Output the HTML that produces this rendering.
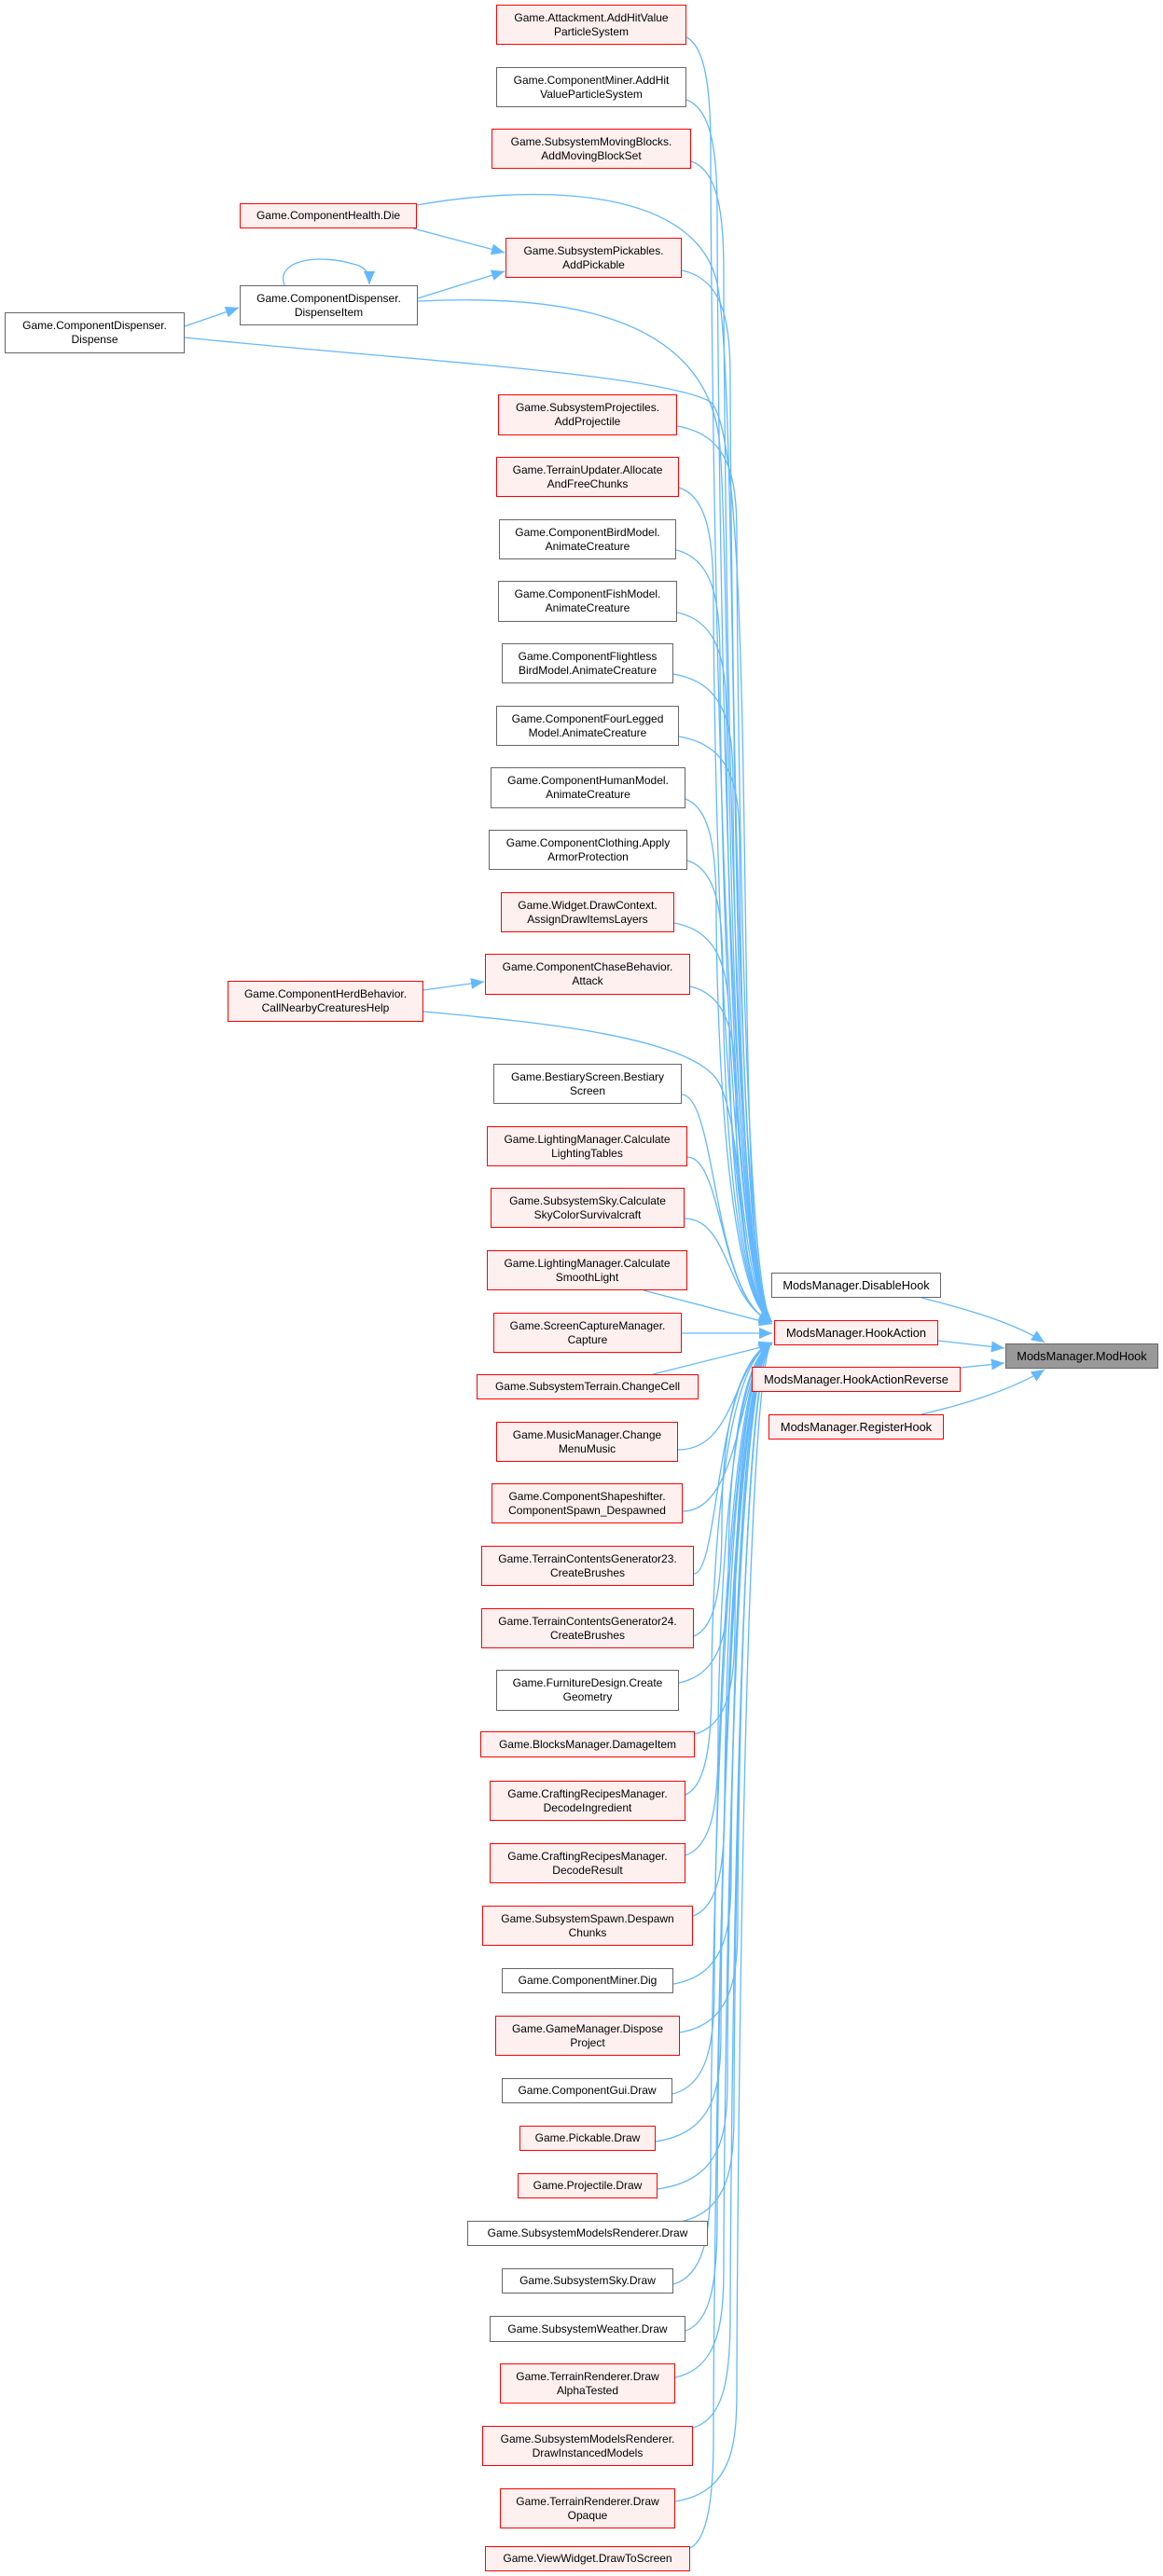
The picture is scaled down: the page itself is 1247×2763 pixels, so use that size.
<!DOCTYPE html>
<html><head><meta charset="utf-8">
<style>
html,body{margin:0;padding:0;background:#fff;}
body{width:1247px;height:2763px;position:relative;overflow:hidden;font-family:"Liberation Sans",Arial,sans-serif;}
.n{position:absolute;box-sizing:border-box;display:flex;align-items:center;justify-content:center;text-align:center;font-size:12px;line-height:15px;color:#000;white-space:nowrap;}
.r{border:1.5px solid #ff0000;background:#fff0f0;}
.g{border:1.5px solid #666;background:#fff;}
.m{border:1.5px solid #666;background:#999;}
.b{font-size:12.8px;}
svg{position:absolute;left:0;top:0;}
</style></head><body>
<svg id="s" width="1247" height="2763" viewBox="0 0 1247 2763">
<defs><marker id="a" markerUnits="userSpaceOnUse" markerWidth="16" markerHeight="12" refX="14" refY="6" orient="auto"><path d="M0,0 L14,6 L0,12 z" fill="#63b8ff"/></marker></defs>
<g id="e" fill="none" stroke="#63b8ff" stroke-width="1.3"></g>
</svg>

<div class="n r" style="left:532px;top:5px;width:204px;height:43px">Game.Attackment.AddHitValue<br>ParticleSystem</div>
<div class="n g" style="left:532px;top:72px;width:204px;height:43px">Game.ComponentMiner.AddHit<br>ValueParticleSystem</div>
<div class="n r" style="left:527px;top:138px;width:214px;height:43px">Game.SubsystemMovingBlocks.<br>AddMovingBlockSet</div>
<div class="n r" style="left:257px;top:218px;width:190px;height:27px">Game.ComponentHealth.Die</div>
<div class="n r" style="left:542px;top:255px;width:189px;height:43px">Game.SubsystemPickables.<br>AddPickable</div>
<div class="n g" style="left:257px;top:306px;width:191px;height:43px">Game.ComponentDispenser.<br>DispenseItem</div>
<div class="n g" style="left:5px;top:335px;width:193px;height:44px">Game.ComponentDispenser.<br>Dispense</div>

<div class="n r" style="left:534px;top:423px;width:192px;height:44px">Game.SubsystemProjectiles.<br>AddProjectile</div>
<div class="n r" style="left:532px;top:490px;width:196px;height:43px">Game.TerrainUpdater.Allocate<br>AndFreeChunks</div>
<div class="n g" style="left:535px;top:557px;width:190px;height:43px">Game.ComponentBirdModel.<br>AnimateCreature</div>
<div class="n g" style="left:534px;top:623px;width:192px;height:44px">Game.ComponentFishModel.<br>AnimateCreature</div>
<div class="n g" style="left:538px;top:690px;width:184px;height:43px">Game.ComponentFlightless<br>BirdModel.AnimateCreature</div>
<div class="n g" style="left:532px;top:757px;width:196px;height:43px">Game.ComponentFourLegged<br>Model.AnimateCreature</div>
<div class="n g" style="left:526px;top:823px;width:209px;height:44px">Game.ComponentHumanModel.<br>AnimateCreature</div>
<div class="n g" style="left:524px;top:890px;width:213px;height:43px">Game.ComponentClothing.Apply<br>ArmorProtection</div>
<div class="n r" style="left:537px;top:957px;width:186px;height:43px">Game.Widget.DrawContext.<br>AssignDrawItemsLayers</div>
<div class="n r" style="left:520px;top:1023px;width:220px;height:44px">Game.ComponentChaseBehavior.<br>Attack</div>
<div class="n r" style="left:244px;top:1052px;width:210px;height:44px">Game.ComponentHerdBehavior.<br>CallNearbyCreaturesHelp</div>

<div class="n g" style="left:529px;top:1141px;width:202px;height:43px">Game.BestiaryScreen.Bestiary<br>Screen</div>
<div class="n r" style="left:522px;top:1208px;width:215px;height:43px">Game.LightingManager.Calculate<br>LightingTables</div>
<div class="n r" style="left:526px;top:1274px;width:208px;height:43px">Game.SubsystemSky.Calculate<br>SkyColorSurvivalcraft</div>
<div class="n r" style="left:522px;top:1341px;width:215px;height:43px">Game.LightingManager.Calculate<br>SmoothLight</div>
<div class="n r" style="left:529px;top:1408px;width:202px;height:43px">Game.ScreenCaptureManager.<br>Capture</div>
<div class="n r" style="left:511px;top:1474px;width:238px;height:27px">Game.SubsystemTerrain.ChangeCell</div>
<div class="n r" style="left:532px;top:1525px;width:195px;height:43px">Game.MusicManager.Change<br>MenuMusic</div>
<div class="n r" style="left:527px;top:1591px;width:205px;height:43px">Game.ComponentShapeshifter.<br>ComponentSpawn_Despawned</div>
<div class="n r" style="left:516px;top:1658px;width:228px;height:43px">Game.TerrainContentsGenerator23.<br>CreateBrushes</div>
<div class="n r" style="left:516px;top:1725px;width:228px;height:43px">Game.TerrainContentsGenerator24.<br>CreateBrushes</div>

<div class="n g" style="left:532px;top:1791px;width:196px;height:44px">Game.FurnitureDesign.Create<br>Geometry</div>
<div class="n r" style="left:515px;top:1857px;width:230px;height:28px">Game.BlocksManager.DamageItem</div>
<div class="n r" style="left:525px;top:1910px;width:210px;height:43px">Game.CraftingRecipesManager.<br>DecodeIngredient</div>
<div class="n r" style="left:525px;top:1977px;width:210px;height:43px">Game.CraftingRecipesManager.<br>DecodeResult</div>
<div class="n r" style="left:517px;top:2044px;width:226px;height:43px">Game.SubsystemSpawn.Despawn<br>Chunks</div>
<div class="n g" style="left:538px;top:2111px;width:184px;height:27px">Game.ComponentMiner.Dig</div>
<div class="n r" style="left:531px;top:2162px;width:198px;height:43px">Game.GameManager.Dispose<br>Project</div>
<div class="n g" style="left:538px;top:2229px;width:183px;height:27px">Game.ComponentGui.Draw</div>
<div class="n r" style="left:557px;top:2280px;width:146px;height:27px">Game.Pickable.Draw</div>
<div class="n r" style="left:555px;top:2331px;width:150px;height:27px">Game.Projectile.Draw</div>
<div class="n g" style="left:501px;top:2382px;width:258px;height:27px">Game.SubsystemModelsRenderer.Draw</div>
<div class="n g" style="left:538px;top:2433px;width:184px;height:27px">Game.SubsystemSky.Draw</div>
<div class="n g" style="left:525px;top:2484px;width:210px;height:28px">Game.SubsystemWeather.Draw</div>
<div class="n r" style="left:536px;top:2535px;width:188px;height:43px">Game.TerrainRenderer.Draw<br>AlphaTested</div>
<div class="n r" style="left:517px;top:2602px;width:226px;height:43px">Game.SubsystemModelsRenderer.<br>DrawInstancedModels</div>
<div class="n r" style="left:536px;top:2669px;width:188px;height:43px">Game.TerrainRenderer.Draw<br>Opaque</div>
<div class="n r" style="left:520px;top:2731px;width:220px;height:27px">Game.ViewWidget.DrawToScreen</div>

<div class="n g b" style="left:827px;top:1365px;width:182px;height:27px">ModsManager.DisableHook</div>
<div class="n r b" style="left:830px;top:1416px;width:176px;height:27px">ModsManager.HookAction</div>
<div class="n m b" style="left:1078px;top:1441px;width:164px;height:27px">ModsManager.ModHook</div>
<div class="n r b" style="left:806px;top:1466px;width:224px;height:27px">ModsManager.HookActionReverse</div>
<div class="n r b" style="left:824px;top:1517px;width:188px;height:27px">ModsManager.RegisterHook</div>

<script>
(function(){
var g=document.getElementById('e');
function P(d,arrow){var p=document.createElementNS('http://www.w3.org/2000/svg','path');p.setAttribute('d',d);if(arrow)p.setAttribute('marker-end','url(#a)');g.appendChild(p);}
var src=[[736,40],[736,107],[741,173],[731,290],[726,457],[728,523],[725,590],[726,657],[722,723],[728,790],[735,857],[737,923],[723,990],[740,1058],[731,1174],[737,1241],[734,1307],
[727,1555],[732,1621],[744,1688],[744,1755],[728,1805],[745,1860],[735,1925],[735,1990],[743,2055],[722,2128],[729,2180],[721,2246],[703,2297],[705,2348],[725,2384],[722,2450],[735,2500],[724,2550],[743,2604],[724,2683],[740,2733]];
var i=0;
src.forEach(function(s){
 var sx=s[0],sy=s[1];var xv=762+((i*7)%32);i++;
 var up=sy<1400, ty=up?1418:1440;
 if(Math.abs(ty-sy)<260){
  P('M'+sx+','+sy+' C'+(xv+5)+','+sy+' '+(xv)+','+(up?ty-20:ty+20)+' 828,'+ty,1);
 } else if(up){
  P('M'+sx+','+sy+' C'+(xv-5)+','+(sy+10)+' '+xv+','+(sy+60)+' '+xv+','+Math.min(sy+120,ty-80)+' S'+(xv+5)+','+(ty-30)+' 828,'+ty,1);
 }else{
  P('M'+sx+','+sy+' C'+(xv-5)+','+(sy-10)+' '+xv+','+(sy-60)+' '+xv+','+Math.max(sy-120,ty+80)+' S'+(xv+5)+','+(ty+25)+' 828,'+ty,1);
 }
});
P('M447,220 C560,200 740,195 768,300 S775,1380 828,1418',1);
P('M448,323 C560,318 760,320 772,480 S778,1390 828,1418',1);
P('M198,362 C420,385 700,400 760,430 S780,1390 828,1418',1);
P('M454,1085 C560,1095 740,1110 770,1160 S790,1400 828,1418',1);
P('M690,1384 L828,1420',1);
P('M731,1430 L828,1430',1);
P('M700,1474 L828,1442',1);
P('M443,245 L541,271',1);
P('M448,320 L541,291',1);
P('M198,350 L256,330',1);
P('M305,306 C295,280 340,270 385,285 C395,290 396,296 396,305',1);
P('M454,1062 L519,1053',1);
P('M988,1392 C1040,1405 1090,1420 1120,1440',1);
P('M1006,1438 L1077,1446',1);
P('M1030,1467 L1077,1462',1);
P('M988,1517 C1040,1505 1090,1488 1120,1469',1);
})();
</script>
</body></html>
